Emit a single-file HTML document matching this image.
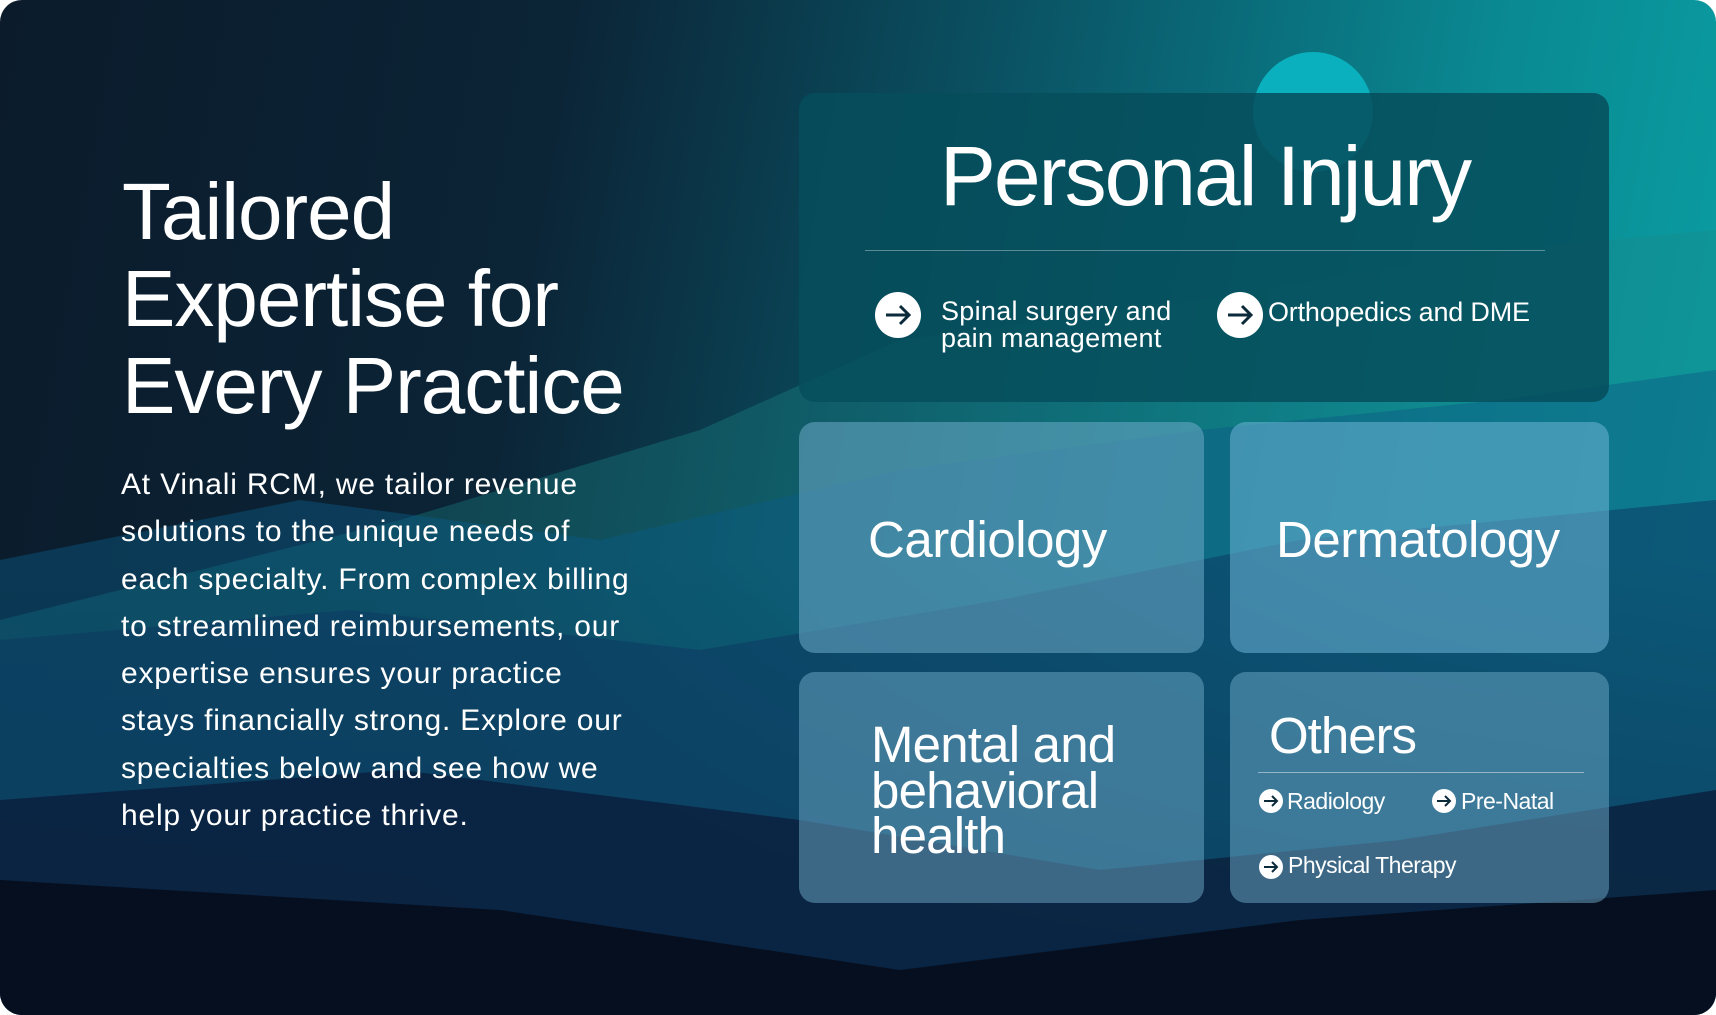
<!DOCTYPE html>
<html><head><meta charset="utf-8"><style>
body{margin:0;width:1716px;height:1015px;overflow:hidden;background:#fff;font-family:"Liberation Sans",sans-serif;}
#bg{position:absolute;left:0;top:0;width:1716px;height:1015px;border-radius:22px;overflow:hidden;
background:linear-gradient(180deg,rgba(0,0,0,0) 55%,rgba(4,8,20,.9) 100%),linear-gradient(100deg,#0b1b2b 0%,#0b2436 30%,#0a5566 55%,#0a8a93 80%,#0aa3a6 100%);}
.t{position:absolute;color:#fff;white-space:nowrap;}
.box{position:absolute;border-radius:16px;}
.c{position:absolute;border-radius:50%;background:#fff;}
.c svg{position:absolute;left:0;top:0;}
</style></head><body>
<div id="bg">
<svg width="1716" height="1015" style="position:absolute;left:0;top:0">
<path d="M0 620 L400 520 L700 430 L900 340 L1200 300 L1500 250 L1716 230 L1716 1015 L0 1015Z" fill="#1a8a8a" opacity=".35"/>
<path d="M0 560 L300 500 L600 540 L900 470 L1200 430 L1500 400 L1716 370 L1716 1015 L0 1015Z" fill="#0a5b86" opacity=".45"/>
<path d="M0 640 L350 610 L700 650 L1000 600 L1300 540 L1716 500 L1716 1015 L0 1015Z" fill="#0b3560" opacity=".5"/>
<path d="M0 800 L400 770 L800 820 L1100 870 L1400 840 L1716 790 L1716 1015 L0 1015Z" fill="#0a1a36" opacity=".7"/>
<path d="M0 880 L500 910 L900 970 L1300 920 L1716 890 L1716 1015 L0 1015Z" fill="#050a18" opacity=".8"/>
<circle cx="1313" cy="112" r="60" fill="#0ab0bd"/>
</svg>
<div class="box" style="left:799px;top:93px;width:810px;height:309px;background:rgba(6,78,92,.85)"></div>
<div class="box" style="left:799px;top:422px;width:405px;height:231px;background:rgba(110,170,200,.55)"></div>
<div class="box" style="left:1230px;top:422px;width:379px;height:231px;background:rgba(110,180,215,.55)"></div>
<div class="box" style="left:799px;top:672px;width:405px;height:231px;background:rgba(110,170,200,.5)"></div>
<div class="box" style="left:1230px;top:672px;width:379px;height:231px;background:rgba(110,170,200,.5)"></div>

<div class="t" style="left:122px;top:168px;font-size:80px;line-height:87px;letter-spacing:-1px">Tailored<br>Expertise for<br>Every Practice</div>
<div class="t" style="left:121px;top:461px;font-size:30px;line-height:47.3px;letter-spacing:0.8px">At Vinali RCM, we tailor revenue<br>solutions to the unique needs of<br>each specialty. From complex billing<br>to streamlined reimbursements, our<br>expertise ensures your practice<br>stays financially strong. Explore our<br>specialties below and see how we<br>help your practice thrive.</div>

<div class="t" style="left:800px;width:810px;text-align:center;top:128px;font-size:84px;letter-spacing:-2px">Personal Injury</div>
<div style="position:absolute;left:865px;top:250px;width:680px;height:1px;background:rgba(255,255,255,.35)"></div>
<div class="c" style="left:875px;top:292px;width:46px;height:46px"><svg width="46" height="46"><path d="M11 23H34M25 14L34 23L25 32" stroke="#0b2a3a" stroke-width="3" fill="none"/></svg></div>
<div class="t" style="left:941px;top:298px;font-size:27px;line-height:27px;letter-spacing:0.3px">Spinal surgery and<br>pain management</div>
<div class="c" style="left:1217px;top:292px;width:46px;height:46px"><svg width="46" height="46"><path d="M11 23H34M25 14L34 23L25 32" stroke="#0b2a3a" stroke-width="3" fill="none"/></svg></div>
<div class="t" style="left:1268px;top:297px;font-size:27px;letter-spacing:-0.2px">Orthopedics and DME</div>

<div class="t" style="left:868px;top:510px;font-size:51px;letter-spacing:-0.5px">Cardiology</div>
<div class="t" style="left:1276px;top:510px;font-size:51px;letter-spacing:-0.5px">Dermatology</div>
<div class="t" style="left:871px;top:722px;font-size:51px;line-height:45.5px;letter-spacing:-0.8px">Mental and<br>behavioral<br>health</div>
<div class="t" style="left:1269px;top:706px;font-size:51px;letter-spacing:-1px">Others</div>
<div style="position:absolute;left:1258px;top:772px;width:326px;height:1px;background:rgba(255,255,255,.45)"></div>
<div class="c" style="left:1259px;top:789px;width:24px;height:24px"><svg width="24" height="24"><path d="M5 12H18M13 7L18 12L13 17" stroke="#0b2a3a" stroke-width="2" fill="none"/></svg></div>
<div class="t" style="left:1287px;top:788px;font-size:23px;letter-spacing:-0.5px">Radiology</div>
<div class="c" style="left:1432px;top:789px;width:24px;height:24px"><svg width="24" height="24"><path d="M5 12H18M13 7L18 12L13 17" stroke="#0b2a3a" stroke-width="2" fill="none"/></svg></div>
<div class="t" style="left:1461px;top:788px;font-size:23px;letter-spacing:-0.5px">Pre-Natal</div>
<div class="c" style="left:1259px;top:855px;width:24px;height:24px"><svg width="24" height="24"><path d="M5 12H18M13 7L18 12L13 17" stroke="#0b2a3a" stroke-width="2" fill="none"/></svg></div>
<div class="t" style="left:1288px;top:852px;font-size:23px;letter-spacing:-0.5px">Physical Therapy</div>
</div>
</body></html>
